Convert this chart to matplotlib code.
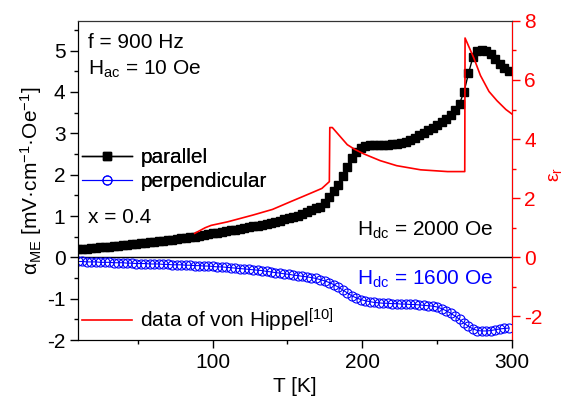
import numpy as np
import matplotlib.pyplot as plt
from matplotlib.ticker import MultipleLocator

plt.rcParams['font.family'] = ['Liberation Sans', 'DejaVu Sans']
plt.rcParams['mathtext.fontset'] = 'custom'
plt.rcParams['mathtext.rm'] = 'Liberation Sans'
plt.rcParams['mathtext.it'] = 'Liberation Sans:italic'
plt.rcParams['axes.unicode_minus'] = False
plt.rcParams['font.size'] = 15

# temperature grid of the ME measurement [K]
T = np.arange(10, 299, 3)

# alpha_ME, parallel (H_dc = 2000 Oe)
alpha_par = [0.19, 0.20, 0.21, 0.22, 0.23, 0.24, 0.25, 0.26, 0.27, 0.28,
             0.30, 0.31, 0.32, 0.33, 0.34, 0.35, 0.36, 0.38, 0.39, 0.40,
             0.42, 0.43, 0.44, 0.46, 0.47, 0.49, 0.50, 0.52, 0.54, 0.56,
             0.58, 0.60, 0.62, 0.63, 0.65, 0.67, 0.69, 0.71, 0.73, 0.75,
             0.77, 0.79, 0.81, 0.83, 0.86, 0.89, 0.92, 0.95, 0.98, 1.01,
             1.05, 1.09, 1.14, 1.20, 1.22, 1.32, 1.45, 1.60, 1.76, 1.97,
             2.18, 2.40, 2.55, 2.64, 2.69, 2.71, 2.72, 2.72, 2.72, 2.72,
             2.73, 2.75, 2.77, 2.80, 2.84, 2.89, 2.95, 3.01, 3.07, 3.13,
             3.20, 3.27, 3.35, 3.45, 3.56, 3.72, 4.00, 4.45, 4.85, 4.99,
             5.02, 4.99, 4.92, 4.80, 4.68, 4.57, 4.50]

# alpha_ME, perpendicular (H_dc = 1600 Oe)
alpha_perp = [-0.10, -0.10, -0.11, -0.11, -0.11, -0.12, -0.12, -0.12, -0.13, -0.13,
              -0.13, -0.14, -0.14, -0.15, -0.15, -0.15, -0.16, -0.16, -0.16, -0.17,
              -0.17, -0.18, -0.18, -0.18, -0.19, -0.19, -0.20, -0.20, -0.21, -0.21,
              -0.22, -0.23, -0.23, -0.24, -0.25, -0.26, -0.27, -0.28, -0.29, -0.30,
              -0.31, -0.32, -0.34, -0.35, -0.37, -0.38, -0.40, -0.41, -0.43, -0.44,
              -0.46, -0.47, -0.49, -0.51, -0.54, -0.57, -0.61, -0.66, -0.72, -0.79,
              -0.86, -0.93, -0.98, -1.02, -1.05, -1.07, -1.09, -1.10, -1.11, -1.11,
              -1.12, -1.12, -1.13, -1.13, -1.14, -1.14, -1.15, -1.16, -1.17, -1.18,
              -1.20, -1.24, -1.29, -1.35, -1.42, -1.50, -1.59, -1.67, -1.73, -1.77,
              -1.78, -1.78, -1.77, -1.75, -1.73, -1.72, -1.71]

# permittivity, data of von Hippel
T_hip = [88, 95, 99, 110, 127, 140, 152, 160, 167, 173, 178, 178.3, 180, 185,
         190, 195, 201, 212, 223, 239, 257, 268.5, 268.7, 274.5, 279, 284.7,
         290, 296, 300]
eps_hip = [0.81, 1.0, 1.08, 1.2, 1.43, 1.62, 1.88, 2.05, 2.2, 2.33, 2.56, 4.39,
           4.39, 4.1, 3.81, 3.65, 3.5, 3.27, 3.1, 2.96, 2.9, 2.9, 7.42, 6.75,
           6.15, 5.61, 5.3, 5.0, 4.85]

fig = plt.figure(figsize=(5.65, 4.01), dpi=100)
ax = fig.add_axes([0.138, 0.152, 0.768, 0.796])
ax2 = ax.twinx()

ax.axhline(0, color='black', lw=1)
l1, = ax.plot(T, alpha_par, color='black', marker='s', ms=5.5, lw=1, label='parallel')
l2, = ax.plot(T, alpha_perp, color='blue', marker='o', ms=6.5, mfc='none', mew=0.8,
              lw=0.8, label='perpendicular')
l3, = ax2.plot(T_hip, eps_hip, color='red', lw=1.2,
               label='data of von Hippel$^{\\mathregular{[10]}}$')

ax.set_xlim(10, 300)
ax.set_ylim(-2, 5.72)
ax2.set_ylim(-2.8, 8)

ax.xaxis.set_major_locator(MultipleLocator(100))
ax.xaxis.set_minor_locator(MultipleLocator(50))
ax.yaxis.set_major_locator(MultipleLocator(1))
ax.yaxis.set_minor_locator(MultipleLocator(0.5))
ax2.yaxis.set_major_locator(MultipleLocator(2))
ax2.yaxis.set_minor_locator(MultipleLocator(1))

ax.tick_params(which='major', direction='out', length=6, width=1, pad=3)
ax.tick_params(which='minor', direction='out', length=3, width=1)
ax2.tick_params(which='major', direction='out', length=6, width=1, colors='red', pad=3)
ax2.tick_params(which='minor', direction='out', length=3, width=1, colors='red')

for s in ['left', 'top', 'bottom']:
    ax2.spines[s].set_color('black')
ax2.spines['right'].set_color('red')
ax2.spines['top'].set_color('#333333')

ax.set_xlabel('T [K]', labelpad=4)
ax.set_ylabel('α$_{\\mathregular{ME}}$ [mV·cm$^{\\mathregular{-1}}$·Oe$^{\\mathregular{-1}}$]',
              labelpad=2)
ax2.set_ylabel('ε$_{\\mathregular{r}}$', color='red', fontsize=14)
ax2.yaxis.set_label_coords(1.08, 0.52)

leg1 = ax.legend(handles=[l1, l2], loc='upper left', bbox_to_anchor=(0.0, 0.615),
                 frameon=False, handlelength=2.4, handletextpad=0.4,
                 labelspacing=0.25, borderpad=0.2, borderaxespad=0.0)
ax.add_artist(leg1)
ax2.legend(handles=[l3], loc='center left', bbox_to_anchor=(0.0, 0.063),
           frameon=False, handlelength=2.4, handletextpad=0.4,
           borderpad=0.2, borderaxespad=0.0)

ax.text(0.023, 0.914, 'f = 900 Hz', transform=ax.transAxes, va='baseline')
ax.text(0.023, 0.831, 'H$_{\\mathregular{ac}}$ = 10 Oe', transform=ax.transAxes, va='baseline')
ax.text(0.023, 0.368, 'x = 0.4', transform=ax.transAxes, va='baseline')
ax.text(0.957, 0.326, 'H$_{\\mathregular{dc}}$ = 2000 Oe', transform=ax.transAxes,
        ha='right', va='baseline')
ax.text(0.957, 0.172, 'H$_{\\mathregular{dc}}$ = 1600 Oe', transform=ax.transAxes,
        ha='right', va='baseline', color='blue')

fig.savefig('out.png', dpi=100)
